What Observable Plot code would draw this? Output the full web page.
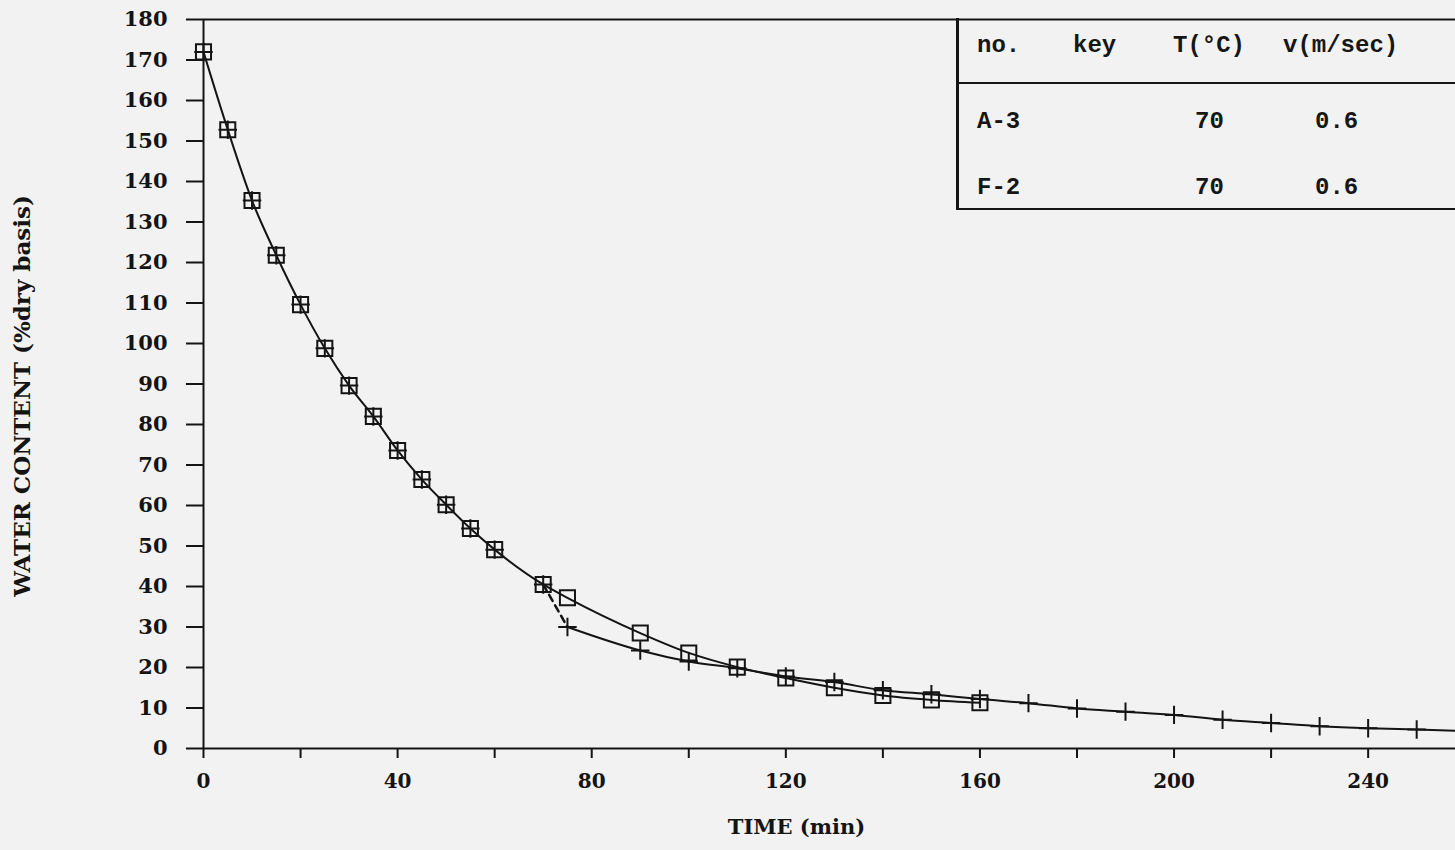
<!DOCTYPE html>
<html>
<head>
<meta charset="utf-8">
<script src="https://cdn.jsdelivr.net/npm/d3@7"></script>
<script src="https://cdn.jsdelivr.net/npm/@observablehq/plot@0.6"></script>
<style>
  html, body { margin: 0; padding: 0; background: #f2f2f2; }
  #wrap { position: relative; width: 1455px; height: 850px; overflow: hidden; background: #f2f2f2; }
  #legend { position: absolute; left: 956px; top: 18px; width: 520px; height: 190px;
    border-left: 3px solid #151515; border-bottom: 2px solid #151515;
    font-family: "Liberation Mono", "DejaVu Sans Mono", monospace; font-weight: bold; font-size: 24px; color: #161616; }
  #legend .sep { position: absolute; left: 0; top: 64px; width: 100%; border-top: 2px solid #151515; }
  #legend span { position: absolute; white-space: pre; line-height: 1; }
</style>
</head>
<body>
<div id="wrap"><div id="legend"></div></div>
<script>
// ---- data ----
const a3Times  = [0, 5, 10, 15, 20, 25, 30, 35, 40, 45, 50, 55, 60, 70, 75, 90, 100, 110, 120, 130, 140, 150, 160];
const a3Values = [172, 152.8, 135.3, 121.8, 109.6, 98.8, 89.6, 82, 73.6, 66.4, 60.2, 54.3, 49.1, 40.5, 37.2, 28.5, 23.6, 20.1, 17.4, 15, 13.1, 12, 11.3];

const f2Times  = [0, 5, 10, 15, 20, 25, 30, 35, 40, 45, 50, 55, 60, 70, 75, 90, 100, 110, 120, 130, 140, 150, 160, 170, 180, 190, 200, 210, 220, 230, 240, 250];
const f2Values = [172, 152.8, 135.3, 121.8, 109.6, 98.8, 89.6, 82, 73.6, 66.4, 60.2, 54.3, 49.1, 40.5, 30, 24.2, 21.5, 19.8, 17.8, 16.4, 14.4, 13.4, 12.2, 11.2, 9.9, 9.1, 8.3, 7.1, 6.3, 5.5, 5.0, 4.7];
const f2SplitTime = 75;           // where the F-2 curve leaves the A-3 curve
const f2EndTime = 258, f2EndValue = 4.4;  // curve continues to the cut edge

const yTicks = d3.range(0, 181, 10);
const xTicks = d3.range(0, 241, 20);
const xLabelStep = 40;

const legendHeader = ["no.", "key", "T(\u00B0C)", "v(m/sec)"];
const legendRows = [["A-3", "", "70", "0.6"], ["F-2", "", "70", "0.6"]];

// ---- build tables ----
const a3 = a3Times.map((t, i) => ({t, v: a3Values[i]}));
const f2 = f2Times.map((t, i) => ({t, v: f2Values[i]}));
const iSplit = f2Times.indexOf(f2SplitTime);
const f2Dash = f2.slice(iSplit - 1, iSplit + 1);
const f2Solid = f2.slice(iSplit).concat([{t: f2EndTime, v: f2EndValue}]);

const ink = "#141414";
const tickFont = {fontFamily: "DejaVu Serif", fontWeight: "bold"};

const chart = Plot.plot({
  width: 1455,
  height: 850,
  marginLeft: 203,
  marginRight: 0,
  marginTop: 19,
  marginBottom: 102,
  style: {background: "transparent", color: ink},
  x: {domain: [0, 258]},
  y: {domain: [0, 180]},
  marks: [
    Plot.ruleY([180], {stroke: ink, strokeWidth: 2}),
    Plot.ruleY([0], {stroke: ink, strokeWidth: 2}),
    Plot.ruleX([0], {stroke: ink, strokeWidth: 2}),
    Plot.axisY({ticks: yTicks, tickSize: 17, tickPadding: 19, label: null, fontSize: 21, ...tickFont, strokeWidth: 2, stroke: ink}),
    Plot.axisX({ticks: xTicks, tickSize: 10, tickPadding: 15, label: null, fontSize: 20,
      tickFormat: d => d % xLabelStep === 0 ? String(d) : "", ...tickFont, strokeWidth: 2, stroke: ink}),
    Plot.text(["TIME (min)"], {frameAnchor: "bottom", dx: -33, dy: 85, fontSize: 21, ...tickFont, fill: ink}),
    Plot.text(["WATER CONTENT (%dry basis)"], {frameAnchor: "left", textAnchor: "middle", dx: -181, dy: 12, rotate: -90, fontSize: 23, ...tickFont, fill: ink}),
    Plot.line(a3, {x: "t", y: "v", curve: "monotone-x", stroke: ink, strokeWidth: 2}),
    Plot.line(f2Dash, {x: "t", y: "v", stroke: ink, strokeWidth: 2.5, strokeDasharray: "7,5"}),
    Plot.line(f2Solid, {x: "t", y: "v", curve: "monotone-x", stroke: ink, strokeWidth: 2}),
    Plot.dot(a3, {x: "t", y: "v", symbol: "square", r: 8.5, stroke: ink, strokeWidth: 2, fill: "none"}),
    Plot.dot(f2, {x: "t", y: "v", symbol: "plus", r: 6, stroke: ink, strokeWidth: 2})
  ]
});
const wrap = document.getElementById("wrap");
wrap.insertBefore(chart, wrap.firstChild);

// ---- legend table ----
const legend = document.getElementById("legend");
const colX = [18, 114, 214, 324];
const valX = [18, 114, 236, 356];
const rowTop = [16, 92, 158];
legendHeader.forEach((txt, j) => {
  const s = document.createElement("span");
  s.textContent = txt; s.style.left = colX[j] + "px"; s.style.top = rowTop[0] + "px";
  legend.appendChild(s);
});
const sep = document.createElement("div"); sep.className = "sep"; legend.appendChild(sep);
legendRows.forEach((row, i) => {
  row.forEach((txt, j) => {
    if (!txt) return;
    const s = document.createElement("span");
    s.textContent = txt; s.style.left = valX[j] + "px"; s.style.top = rowTop[i + 1] + "px";
    legend.appendChild(s);
  });
});
</script>
</body>
</html>
